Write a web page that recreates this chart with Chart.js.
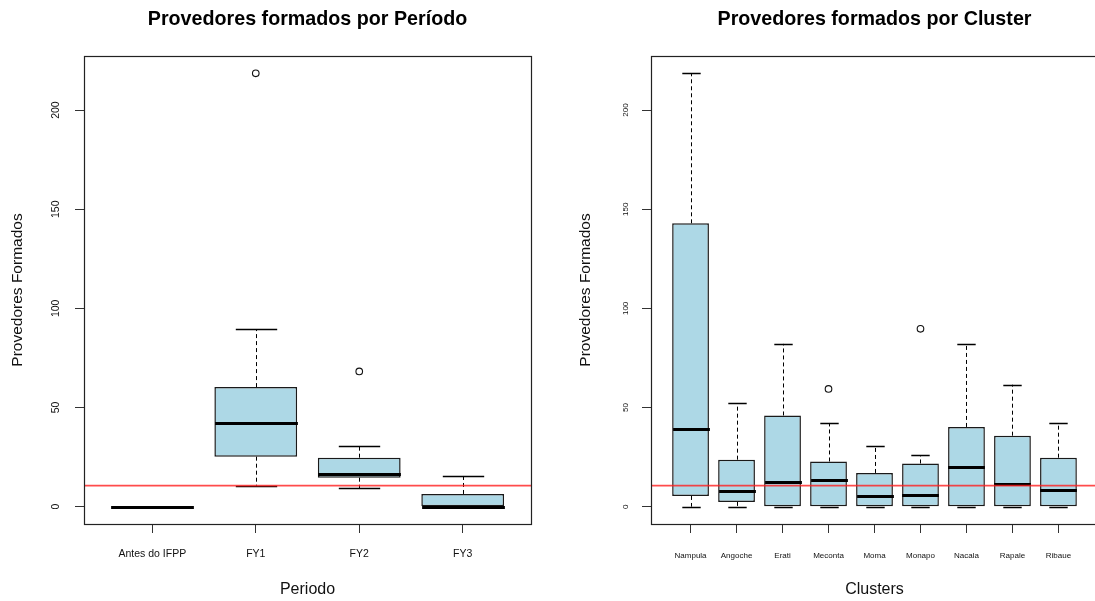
<!DOCTYPE html>
<html lang="pt">
<head>
<meta charset="utf-8">
<title>Provedores formados</title>
<script src="https://cdn.jsdelivr.net/npm/chart.js@4/dist/chart.umd.min.js"></script>
<style>
  html, body { margin: 0; padding: 0; background: #fff; overflow: hidden; width: 1095px; height: 601px; }
  #left { position: absolute; left: 0; top: 0; }
  #right { position: absolute; left: 548px; top: 0; }
</style>
</head>
<body>
<canvas id="left" width="548" height="601"></canvas>
<canvas id="right" width="560" height="601"></canvas>
<script>
// ---- Provedores formados por Período ----
const periodos = ['Antes do IFPP', 'FY1', 'FY2', 'FY3'];
const periodoMin = [0, 10.2, 9.2, 0];
const periodoQ1 = [0, 25.2, 14.6, 0];
const periodoMediana = [0, 42, 16.5, 0];
const periodoQ3 = [0, 60.3, 24.7, 6.4];
const periodoMax = [0, 89.5, 30.4, 15.6];
const periodoOutliers = [[], [218.5], [68.2], []];

// ---- Provedores formados por Cluster ----
const clusters = ['Nampula', 'Angoche', 'Erati', 'Meconta', 'Moma', 'Monapo', 'Nacala', 'Rapale', 'Ribaue'];
const clusterMin = [0, 0, 0, 0, 0, 0, 0, 0, 0];
const clusterQ1 = [5.4, 2.4, 0, 0, 0, 0, 0, 0, 0];
const clusterMediana = [39.1, 7.7, 12.6, 13.2, 5.4, 5.9, 19.8, 11.6, 8.4];
const clusterQ3 = [142.9, 23.7, 46, 22.8, 17, 21.8, 40.2, 35.8, 24.7];
const clusterMax = [218.5, 52.2, 82.1, 42.2, 30.4, 26, 82.1, 61.5, 42.2];
const clusterOutliers = [[], [], [], [59.4], [], [89.7], [], [], []];

// shared y ticks and reference line
const yTicks = [0, 50, 100, 150, 200];
const linhaReferencia = 10.6;

const FONT = '"Liberation Sans", Arial, Helvetica, sans-serif';

// draws whiskers, caps, medians, the reference line and the plot frame
const boxDecor = {
  id: 'boxDecor',
  afterDatasetsDraw(chart, args, opts) {
    const { ctx, chartArea: a, scales: { x, y } } = chart;
    const bars = chart.getDatasetMeta(0).data;
    const s = opts.stats;
    ctx.save();
    s.med.forEach((m, i) => {
      const cx = Math.round(x.getPixelForValue(i + 1)) + 0.5;
      const w = bars[i].width;
      const capHalf = w / 4;
      const pLow = y.getPixelForValue(s.min[i]);
      const pQ1 = y.getPixelForValue(s.q1[i]);
      const pQ3 = y.getPixelForValue(s.q3[i]);
      const pHigh = y.getPixelForValue(s.max[i]);
      ctx.strokeStyle = '#000';
      ctx.lineWidth = 1;
      // dashed whiskers
      ctx.setLineDash([4, 3]);
      ctx.beginPath();
      ctx.moveTo(cx, pQ3); ctx.lineTo(cx, pHigh);
      ctx.moveTo(cx, pQ1); ctx.lineTo(cx, pLow);
      ctx.stroke();
      // caps
      ctx.setLineDash([]);
      ctx.lineWidth = 1.3;
      ctx.beginPath();
      const yh = Math.round(pHigh) + 0.5, yl = Math.round(pLow) + 0.5;
      ctx.moveTo(cx - capHalf, yh); ctx.lineTo(cx + capHalf, yh);
      ctx.moveTo(cx - capHalf, yl); ctx.lineTo(cx + capHalf, yl);
      ctx.stroke();
      // median
      ctx.lineWidth = 3;
      ctx.lineCap = 'butt';
      const ym = Math.round(y.getPixelForValue(s.med[i])) + 0.5;
      ctx.beginPath();
      ctx.moveTo(cx - w / 2, ym); ctx.lineTo(cx + w / 2, ym);
      ctx.stroke();
    });
    // horizontal reference line
    ctx.beginPath();
    ctx.rect(a.left, a.top, a.right - a.left, a.bottom - a.top);
    ctx.clip();
    ctx.strokeStyle = 'rgba(255,30,30,0.8)';
    ctx.lineWidth = 1.6;
    const yr = y.getPixelForValue(opts.ref);
    ctx.beginPath();
    ctx.moveTo(a.left, yr); ctx.lineTo(a.right, yr);
    ctx.stroke();
    ctx.restore();
  },
  afterDraw(chart) {
    const { ctx, chartArea: a } = chart;
    ctx.save();
    ctx.strokeStyle = '#222';
    ctx.lineWidth = 1.2;
    ctx.strokeRect(Math.round(a.left) + 0.5, Math.round(a.top) + 0.5,
      Math.round(a.right - a.left), Math.round(a.bottom - a.top));
    ctx.restore();
  }
};

function buildBoxChart(canvas, cfg) {
  const n = cfg.cats.length;
  const allVals = cfg.max.concat(cfg.outliers.flat(), cfg.min);
  const dMin = Math.min(...allVals), dMax = Math.max(...allVals);
  const yExt = (dMax - dMin) * 0.04;
  const xExt = n * 0.04;
  const boxes = cfg.cats.map((c, i) => ({ x: i + 1, y: [cfg.q1[i], cfg.q3[i]] }));
  const outs = cfg.outliers.flatMap((arr, i) => arr.map(v => ({ x: i + 1, y: v })));

  return new Chart(canvas, {
    type: 'bar',
    data: {
      datasets: [
        {
          label: 'caixa',
          data: boxes,
          backgroundColor: '#add8e6',
          borderColor: '#1a1a1a',
          borderWidth: 1.5,
          borderSkipped: false,
          barPercentage: 0.8,
          categoryPercentage: 1,
          order: 2
        },
        {
          type: 'scatter',
          label: 'outliers',
          data: outs,
          pointStyle: 'circle',
          pointRadius: 3.3,
          borderWidth: 1.1,
          borderColor: '#111',
          backgroundColor: 'rgba(0,0,0,0)',
          order: 1
        }
      ]
    },
    options: {
      responsive: false,
      animation: false,
      events: [],
      layout: { padding: { left: 0, right: cfg.padRight, top: 0, bottom: 0 } },
      plugins: {
        legend: { display: false },
        tooltip: { enabled: false },
        title: {
          display: true,
          text: cfg.title,
          fullSize: false,
          color: '#000',
          font: { family: FONT, size: 19.7, weight: 'bold' },
          padding: { top: 7.7, bottom: 24.7 }
        },
        boxDecor: {
          stats: { min: cfg.min, q1: cfg.q1, med: cfg.med, q3: cfg.q3, max: cfg.max },
          ref: linhaReferencia
        }
      },
      scales: {
        x: {
          type: 'linear',
          offset: false,
          min: 0.5 - xExt,
          max: n + 0.5 + xExt,
          afterBuildTicks: s => { s.ticks = cfg.cats.map((c, i) => ({ value: i + 1 })); },
          afterFit: s => { s.height = 77; },
          grid: { drawOnChartArea: false, drawTicks: true, tickLength: 9, tickColor: '#333', offset: false },
          border: { display: false },
          ticks: {
            autoSkip: false, maxRotation: 0, minRotation: 0,
            padding: cfg.xTickPad,
            color: '#111',
            font: { family: FONT, size: cfg.tickSize },
            callback: (v, i) => cfg.cats[i]
          },
          title: {
            display: true, text: cfg.xTitle, color: '#111',
            font: { family: FONT, size: 16 },
            padding: { top: 0, bottom: 2 }
          }
        },
        y: {
          type: 'linear',
          min: dMin - yExt,
          max: dMax + yExt,
          afterBuildTicks: s => { s.ticks = yTicks.map(v => ({ value: v })); },
          afterFit: s => { s.width = cfg.yWidth; },
          grid: { drawOnChartArea: false, drawTicks: true, tickLength: 9, tickColor: '#333' },
          border: { display: false },
          ticks: {
            minRotation: 90, maxRotation: 90,
            crossAlign: 'center',
            padding: cfg.yTickPad,
            color: '#111',
            font: { family: FONT, size: cfg.tickSize },
            callback: v => String(v)
          },
          title: {
            display: true, text: 'Provedores Formados', color: '#111',
            font: { family: FONT, size: 15.5 },
            padding: { top: cfg.yTitlePad, bottom: 0 }
          }
        }
      }
    },
    plugins: [boxDecor]
  });
}

buildBoxChart(document.getElementById('left'), {
  title: 'Provedores formados por Período',
  xTitle: 'Periodo',
  cats: periodos,
  min: periodoMin, q1: periodoQ1, med: periodoMediana, q3: periodoQ3, max: periodoMax,
  outliers: periodoOutliers,
  padRight: 17, yWidth: 84, tickSize: 10.5,
  xTickPad: 15, yTickPad: 10, yTitlePad: 8
});

buildBoxChart(document.getElementById('right'), {
  title: 'Provedores formados por Cluster',
  xTitle: 'Clusters',
  cats: clusters,
  min: clusterMin, q1: clusterQ1, med: clusterMediana, q3: clusterQ3, max: clusterMax,
  outliers: clusterOutliers,
  padRight: 10, yWidth: 103, tickSize: 8,
  xTickPad: 18, yTickPad: 10, yTitlePad: 28
});
</script>
</body>
</html>
